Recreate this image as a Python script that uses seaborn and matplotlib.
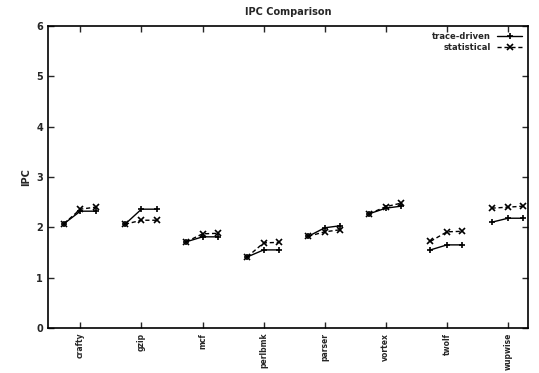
import numpy as np
import pandas as pd
import matplotlib
matplotlib.use("Agg")
import matplotlib.pyplot as plt
import seaborn as sns

# benchmark names (unreadable in the reference, best guess)
benchmarks = ["crafty", "gzip", "mcf", "perlbmk", "parser", "vortex", "twolf", "wupwise"]
# three configurations per benchmark, drawn side by side
config_offsets = [-0.27, 0.0, 0.25]

trace_driven = [
    [2.07, 2.32, 2.32],
    [2.06, 2.36, 2.36],
    [1.71, 1.81, 1.81],
    [1.41, 1.55, 1.55],
    [1.82, 1.99, 2.03],
    [2.27, 2.38, 2.42],
    [1.55, 1.65, 1.65],
    [2.10, 2.18, 2.18],
]
statistical = [
    [2.07, 2.36, 2.40],
    [2.06, 2.14, 2.14],
    [1.71, 1.87, 1.88],
    [1.41, 1.69, 1.70],
    [1.82, 1.91, 1.95],
    [2.27, 2.41, 2.48],
    [1.72, 1.91, 1.92],
    [2.38, 2.40, 2.42],
]

rows = []
for name, vals in [("trace-driven", trace_driven), ("statistical", statistical)]:
    for g, triple in enumerate(vals):
        for off, v in zip(config_offsets, triple):
            rows.append({"series": name, "bench": g, "x": g + off, "ipc": v})
df = pd.DataFrame(rows)

sns.set_style("ticks")
plt.rcParams["font.family"] = ["DejaVu Sans"]
plt.rcParams["font.weight"] = "bold"

fig = plt.figure(figsize=(5.39, 3.73), dpi=100)
ax = fig.add_axes([0.089, 0.121, 0.891, 0.809])

sns.lineplot(data=df, x="x", y="ipc", style="series", units="bench",
             estimator=None, color="black",
             markers={"trace-driven": "+", "statistical": "x"},
             dashes={"trace-driven": "", "statistical": (3, 2)},
             markersize=5, markeredgewidth=1.2, markeredgecolor="black",
             linewidth=1.0, ax=ax)

ax.set_xlim(-0.53, 7.33)
ax.set_ylim(0, 6)
ax.set_xticks(range(len(benchmarks)))
ax.set_xticklabels(benchmarks, rotation=90, fontsize=5.5, fontweight="bold")
ax.set_yticks(range(0, 7))
ax.tick_params(axis="y", labelsize=7)
ax.tick_params(direction="in", top=True, right=True, length=4, width=1)
for s in ax.spines.values():
    s.set_linewidth(1.2)
    s.set_color("black")

ax.set_xlabel("")
ax.set_ylabel("IPC", fontsize=7, fontweight="bold")
ax.set_title("IPC Comparison", fontsize=7, fontweight="bold", pad=8)

handles, labels = ax.get_legend_handles_labels()
keep = [(h, l) for h, l in zip(handles, labels) if l in ("trace-driven", "statistical")]
for h, _ in keep:
    h.set_color("black")
leg = ax.legend([h for h, _ in keep], [l for _, l in keep], loc="upper right",
                frameon=False, markerfirst=False, fontsize=6, handlelength=3,
                borderaxespad=0.3, labelspacing=0.2)
for t in leg.get_texts():
    t.set_fontweight("bold")

fig.savefig("out.png", dpi=100)
